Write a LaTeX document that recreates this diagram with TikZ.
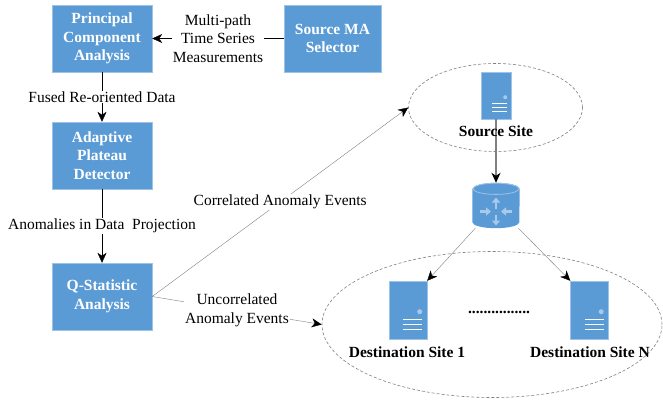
\documentclass[tikz,border=0pt]{standalone}
\usepackage{fontspec}
\setmainfont{Liberation Serif}
\usetikzlibrary{shapes.geometric,arrows.meta}
\definecolor{boxblue}{HTML}{5B9BD5}
\definecolor{boxedge}{HTML}{9DC3E6}
\definecolor{iconlight}{HTML}{A9C8EA}
\definecolor{linegray}{HTML}{808080}
\tikzset{
  block/.style={rectangle, fill=boxblue, draw=boxedge, minimum width=100pt, minimum height=67pt,
    inner sep=0pt, align=center, text=white, font=\fontsize{15.5}{18.5}\selectfont\bfseries},
  lbl/.style={fill=white, inner sep=1pt, align=center, font=\fontsize{15.5}{18.5}\selectfont},
  site/.style={ellipse, draw=linegray, dash pattern=on 3pt off 2pt, line width=0.6pt, inner sep=0pt},
  server/.style={rectangle, fill=boxblue, draw=boxedge, inner sep=0pt},
  sitename/.style={font=\fontsize{15.5}{18.5}\selectfont\bfseries},
  arr/.style={-{Stealth[length=10pt,width=9pt,inset=3pt,color=black]}},
}
% face of a server icon: #1 node, #2 scale
\newcommand{\srvface}[2]{%
  \fill[iconlight] ([shift={(-6*#2,-22*#2)}]#1.south east) circle[radius={2*#2pt}];
  \foreach \k in {8,12,16}
    \draw[white, line width=0.9pt] ([shift={(-19*#2,-\k*#2)}]#1.south east) -- ++(15*#2,0);
}
\begin{document}
\begin{tikzpicture}[x=1pt,y=-1pt]
  \useasboundingbox (0,0) rectangle (663,401);
  % processing chain
  \node[block] (pca) at (102,38.5) {Principal\\Component\\Analysis};
  \node[block, minimum width=97pt] (sma) at (332.5,38.5) {Source MA\\Selector};
  \node[block] (apd) at (102,155.5) {Adaptive\\Plateau\\Detector};
  \node[block] (qsa) at (102,296.5) {Q-Statistic\\Analysis};

  % source site and hub
  \node[site, minimum width=174pt, minimum height=88pt] (srcsite) at (495.5,107.5) {};
  \node[server, minimum width=30pt, minimum height=47pt] (srv) at (496,95.5) {};
  \srvface{srv}{1}
  \node[minimum width=47pt, minimum height=45pt, inner sep=0pt] (hub) at (496,205.5) {};
  \fill[boxblue] ([yshift=-6pt]hub.north west) -- ([yshift=6pt]hub.south west)
    arc[start angle=180, end angle=360, x radius=23.5pt, y radius=6pt]
    -- ([yshift=-6pt]hub.north east)
    arc[start angle=0, end angle=180, x radius=23.5pt, y radius=6pt] -- cycle;
  \draw[boxedge, line width=0.8pt] ([yshift=-6pt]hub.north) ellipse[x radius=23pt, y radius=5.6pt];
  \coordinate (hubc) at ([yshift=-6pt]hub.center);
  \foreach \dx/\dy/\ex/\ey in {0/-3/0/-14, 0/3/0/14, -16/0/-5/0, 16/0/5/0}
    \draw[iconlight, line width=2.5pt, -{Triangle[length=5pt,width=8pt]}]
      ([shift={(\dx,\dy)}]hubc) -- ([shift={(\ex,\ey)}]hubc);

  % destination sites
  \node[site, minimum width=340pt, minimum height=146pt] (dstsite) at (492,324.5) {};
  \node[server, minimum width=38pt, minimum height=58pt] (dst1) at (408,310) {};
  \node[server, minimum width=38pt, minimum height=58pt] (dstn) at (589.5,310) {};
  \srvface{dst1}{1.25}
  \srvface{dstn}{1.25}
  \node[sitename] (dst1name) at (407,352) {Destination Site 1};
  \node[sitename] (dstnname) at (590,352) {Destination Site N};
  \node[sitename] (dots) at (499,312) {................};

  % connectors
  \draw[arr] (sma) -- node[lbl] {Multi-path\\Time Series\\Measurements} (pca);
  \draw[arr] (pca) -- node[lbl] {Fused Re-oriented Data} (apd);
  \draw[arr] (apd) -- node[lbl] {Anomalies in Data\ \ Projection} (qsa);
  \draw[arr, draw=linegray] (qsa.east) -- node[lbl] {Correlated Anomaly Events} (srcsite.west);
  \draw[arr, draw=linegray] (qsa.east) -- node[lbl] {Uncorrelated\\Anomaly Events} (dstsite.west);
  \draw[arr, draw=linegray, line width=1.2pt] (srv) -- (hub);
  \node[sitename] (srvname) at (496,131) {Source Site};
  \draw[arr, draw=linegray] (hub) -- (dst1.north east);
  \draw[arr, draw=linegray] (hub) -- (dstn.north west);
\end{tikzpicture}
\end{document}
